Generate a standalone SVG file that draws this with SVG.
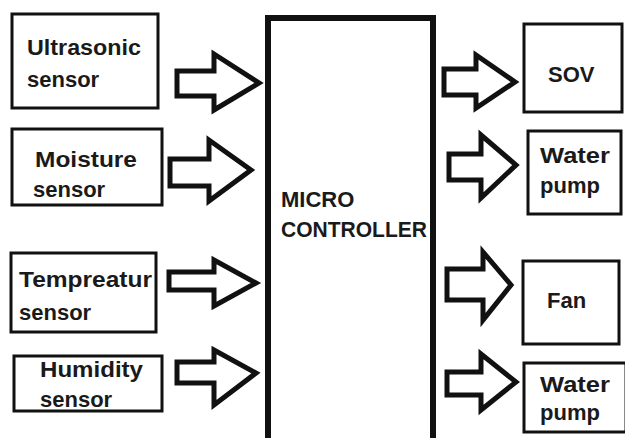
<svg xmlns="http://www.w3.org/2000/svg" width="625" height="438" viewBox="0 0 625 438">
<style>
.box{fill:#fff;stroke:#111;stroke-width:3}
.mc{fill:#fff;stroke:#111;stroke-width:6}
.arr{fill:#fff;stroke:#111;stroke-width:5;stroke-linejoin:miter}
text{font-family:"Liberation Sans",Arial,sans-serif;font-weight:bold;font-size:22px;fill:#1a1a1a}
</style>
<rect width="625" height="438" fill="#fff"/>
<g id="microcontroller">
<rect class="mc" x="268" y="18" width="165" height="430"/>
<text x="281" y="207">MICRO</text>
<text x="281" y="237" textLength="146" lengthAdjust="spacingAndGlyphs">CONTROLLER</text>
</g>
<g id="ultrasonic">
<rect class="box" x="12" y="14" width="146" height="94"/>
<text x="27" y="55" textLength="114" lengthAdjust="spacingAndGlyphs">Ultrasonic</text>
<text x="27" y="87">sensor</text>
</g>
<g id="moisture">
<rect class="box" x="12" y="129" width="150" height="76"/>
<text x="35" y="167" textLength="102" lengthAdjust="spacingAndGlyphs">Moisture</text>
<text x="33" y="197">sensor</text>
</g>
<g id="temperature">
<rect class="box" x="11" y="253" width="145" height="79"/>
<text x="19" y="287" textLength="133" lengthAdjust="spacingAndGlyphs">Tempreatur</text>
<text x="19" y="320">sensor</text>
</g>
<g id="humidity">
<rect class="box" x="14" y="356" width="148" height="55"/>
<text x="40" y="377" textLength="103" lengthAdjust="spacingAndGlyphs">Humidity</text>
<text x="40" y="407">sensor</text>
</g>
<g id="sov">
<rect class="box" x="524" y="24" width="98" height="88"/>
<text x="548" y="82">SOV</text>
</g>
<g id="waterpump1">
<rect class="box" x="528" y="131" width="93" height="83"/>
<text x="540" y="163" textLength="70" lengthAdjust="spacingAndGlyphs">Water</text>
<text x="540" y="193">pump</text>
</g>
<g id="fan">
<rect class="box" x="523" y="261" width="96" height="83"/>
<text x="547" y="308">Fan</text>
</g>
<g id="waterpump2">
<rect class="box" x="524" y="363" width="102" height="69"/>
<text x="540" y="392" textLength="70" lengthAdjust="spacingAndGlyphs">Water</text>
<text x="540" y="420">pump</text>
</g>
<g id="connectors">
<polygon class="arr" points="177,71 214,71 214,54 259,83 214,110 214,96 177,96"/>
<polygon class="arr" points="170,159 209,159 209,140 251,170 209,201 209,186 170,186"/>
<polygon class="arr" points="169,272 214,272 214,260 256,283 214,306 214,290 169,290"/>
<polygon class="arr" points="177,362 214,362 214,350 256,373 214,405 214,383 177,383"/>
<polygon class="arr" points="444,69 476,69 476,55 515,82 476,108 476,95 444,95"/>
<polygon class="arr" points="449,154 481,154 481,135 516,165 481,198 481,180 449,180"/>
<polygon class="arr" points="447,269 483,269 483,252 511,285 483,320 483,300 447,300"/>
<polygon class="arr" points="447,372 481,372 481,354 516,382 481,410 481,395 447,395"/>
</g>
</svg>
